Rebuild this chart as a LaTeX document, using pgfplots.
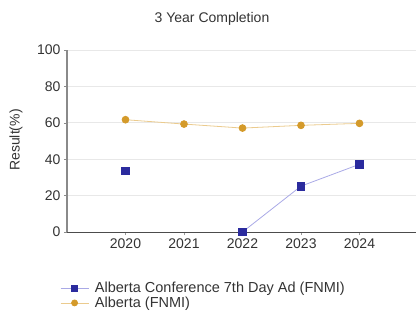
\documentclass[border=0pt]{standalone}
\usepackage{pgfplots}
\pgfplotsset{compat=1.18}
\usepackage{fontspec}
\setmainfont{Liberation Sans}
\definecolor{bluemark}{HTML}{2B2B9E}
\definecolor{blueline}{HTML}{A9A9E6}
\definecolor{orgmark}{HTML}{D49A2A}
\definecolor{orgline}{HTML}{EBCB8E}
\definecolor{gridc}{HTML}{E8E8E8}
\definecolor{axc}{HTML}{8A8A8A}
\begin{document}
\begin{tikzpicture}[x=1pt,y=1pt]
\clip (0,0) rectangle (416,314);
\node[font=\fontsize{14}{16}\selectfont, text=black!80] at (212,295) {3 Year Completion};
\node[font=\fontsize{14}{16}\selectfont, text=black!80, rotate=90] at (16,174) {Result(\%)};
\begin{axis}[
  at={(67pt,82pt)}, anchor=origin,
  scale only axis, width=351pt, height=182pt,
  xmin=2019, xmax=2025, ymin=0, ymax=100,
  xtick={2020,2021,2022,2023,2024},
  ytick={0,20,40,60,80,100},
  xticklabel style={/pgf/number format/1000 sep={}},
  /pgf/number format/assume math mode=true,
  tick label style={font=\fontsize{14}{16}\selectfont, text=black!80},
  axis x line*=bottom, axis y line*=left,
  x axis line style={draw=black!70, line width=1pt, -},
  y axis line style={draw=axc, line width=1.3pt, -},
  ymajorgrids, grid style={gridc, line width=0.8pt},
  ytick style={draw=axc, line width=0.6pt},
  xtick style={draw=black!40, line width=0.5pt},
  tick align=outside, major tick length=3pt,
  unbounded coords=jump,
  clip=false,
  legend image code/.code={\draw[mark repeat=2,mark phase=2, mark size=3pt] plot coordinates {(0pt,0pt)(14pt,0pt)(28pt,0pt)};},
  legend style={at={(-0.02,-0.265)}, anchor=north west, draw=none, fill=none,
    font=\fontsize{14.5}{16}\selectfont, text=black!80, row sep=-1.5pt,
    inner sep=0pt, /tikz/every odd column/.append style={column sep=4pt}},
  legend cell align=left,
]
\addplot[blueline, line width=0.8pt, mark=square*, mark size=3.8pt,
  mark options={draw=bluemark, fill=bluemark}] coordinates {
  (2020,33.5) (2021,nan) (2022,0) (2023,25.2) (2024,37.2)};
\addlegendentry{Alberta Conference 7th Day Ad (FNMI)}
\addplot[orgline, line width=0.8pt, mark=*, mark size=3.4pt,
  mark options={draw=orgmark, fill=orgmark}] coordinates {
  (2020,61.7) (2021,59.3) (2022,57.1) (2023,58.6) (2024,59.7)};
\addlegendentry{Alberta (FNMI)}
\end{axis}
\end{tikzpicture}
\end{document}
